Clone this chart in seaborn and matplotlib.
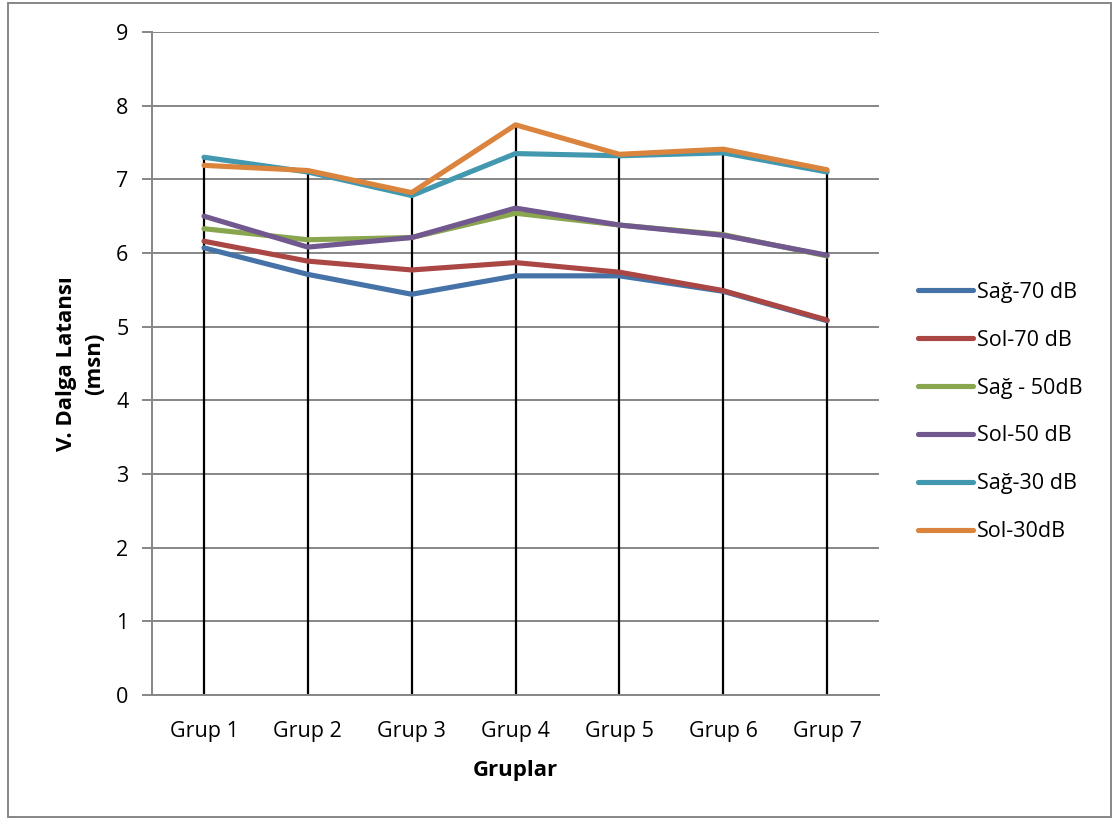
import matplotlib
matplotlib.use("Agg")
import matplotlib.pyplot as plt
import matplotlib.patches as mpatches
import seaborn as sns
import pandas as pd
import numpy as np

# Wave V latency (ms) per group, for each ear and stimulus level
groups = ["Grup 1", "Grup 2", "Grup 3", "Grup 4", "Grup 5", "Grup 6", "Grup 7"]
sag_70 = [6.07, 5.71, 5.44, 5.69, 5.69, 5.48, 5.08]
sol_70 = [6.16, 5.89, 5.77, 5.87, 5.74, 5.49, 5.09]
sag_50 = [6.33, 6.18, 6.21, 6.54, 6.38, 6.25, 5.96]
sol_50 = [6.50, 6.08, 6.21, 6.61, 6.38, 6.24, 5.97]
sag_30 = [7.30, 7.10, 6.78, 7.35, 7.32, 7.36, 7.10]
sol_30 = [7.19, 7.12, 6.82, 7.74, 7.34, 7.41, 7.13]

series_names = ["Sağ-70 dB", "Sol-70 dB", "Sağ - 50dB", "Sol-50 dB", "Sağ-30 dB", "Sol-30dB"]
series_values = [sag_70, sol_70, sag_50, sol_50, sag_30, sol_30]
colors = ["#4572A7", "#AA4643", "#89A54E", "#71588F", "#4198AF", "#DB843D"]

rows = []
for name, vals in zip(series_names, series_values):
    for i, v in enumerate(vals):
        rows.append({"pos": i, "Grup": groups[i], "Seri": name, "Latans": v})
df = pd.DataFrame(rows)

sns.set_style("white")
plt.rcParams["font.family"] = ["Open Sans", "DejaVu Sans"]
plt.rcParams["text.color"] = "black"
plt.rcParams["axes.labelcolor"] = "black"
plt.rcParams["xtick.labelcolor"] = "black"
plt.rcParams["ytick.labelcolor"] = "black"

fs = 15.5
fs_bold = 16

fig = plt.figure(figsize=(11.13, 8.19), dpi=100)
ax = fig.add_axes([0.1366, 0.1514, 0.6532, 0.8095])

grid_c = "#868686"

# drop lines from the highest series down to the axis
tops = df.groupby("pos")["Latans"].max()
ax.vlines(tops.index, 0, tops.values, colors="black", linewidth=1.6, zorder=2)

sns.lineplot(data=df, x="pos", y="Latans", hue="Seri", hue_order=series_names,
             palette=colors, linewidth=3.7, sort=False, ax=ax, zorder=3,
             solid_capstyle="round")

ax.set_xlim(-0.5, 6.5)
ax.set_ylim(0, 9)
ax.set_yticks(range(0, 10))
ax.set_xticks(range(len(groups)))
ax.set_xticklabels(groups)
ax.yaxis.grid(True, color=grid_c, linewidth=1.4)
ax.xaxis.grid(False)
ax.set_axisbelow(True)

for side in ["top", "right"]:
    ax.spines[side].set_visible(False)
for side in ["left", "bottom"]:
    ax.spines[side].set_color(grid_c)
    ax.spines[side].set_linewidth(1.4)

ax.tick_params(axis="y", which="major", direction="out", length=7, width=1.4,
               color=grid_c, labelsize=fs, pad=10, left=True, labelcolor="black")
ax.tick_params(axis="x", which="major", length=0, labelsize=fs, pad=19,
               labelcolor="black")

ax.set_xlabel("Gruplar", fontsize=fs_bold, fontweight="bold", labelpad=13,
              color="black")
ax.set_ylabel("V. Dalga Latansı\n(msn)", fontsize=fs_bold, fontweight="bold",
              labelpad=8, linespacing=1.45, color="black")

handles, labels = ax.get_legend_handles_labels()
ax.get_legend().remove()
leg = fig.legend(handles, labels, loc="center left", bbox_to_anchor=(0.8248, 0.497),
                 bbox_transform=fig.transFigure, frameon=False, fontsize=fs,
                 handlelength=2.56, handletextpad=0.19, labelspacing=1.25,
                 borderpad=0, borderaxespad=0)
for t in leg.get_texts():
    t.set_color("black")

# outer chart frame
frame = mpatches.Rectangle((8 / 1113, 2 / 819), 1 - 10 / 1113, 1 - 5 / 819,
                           transform=fig.transFigure, fill=False,
                           edgecolor=grid_c, linewidth=1.4)
fig.patches.append(frame)

fig.savefig("out.png", dpi=100)
